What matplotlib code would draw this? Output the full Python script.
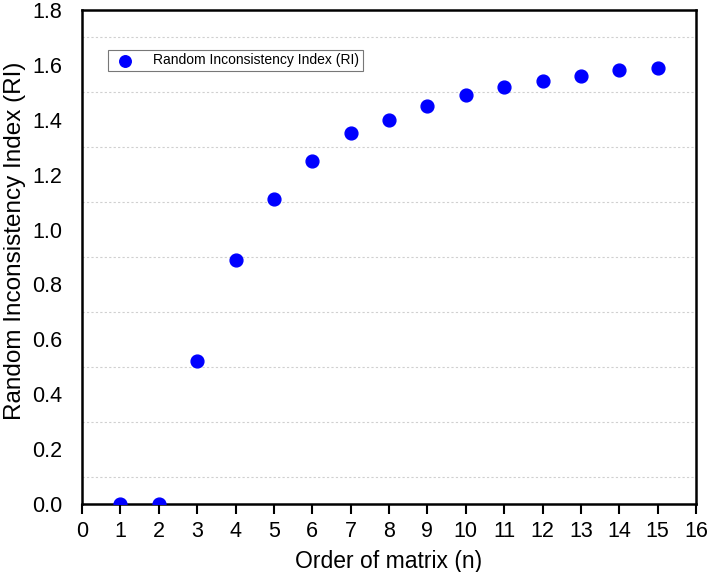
import matplotlib.pyplot as plt
from matplotlib.ticker import MultipleLocator

# ordine della matrice e indice di consistenza casuale
order_n = [1, 2, 3, 4, 5, 6, 7, 8, 9, 10, 11, 12, 13, 14, 15]
ri_values = [0.0, 0.0, 0.52, 0.89, 1.11, 1.25, 1.35, 1.40, 1.45, 1.49,
             1.52, 1.54, 1.56, 1.58, 1.59]

plt.rcParams['font.family'] = ['Liberation Sans', 'DejaVu Sans']

fig = plt.figure(figsize=(7.08, 5.72), dpi=100)
ax = fig.add_axes([82 / 708, 68 / 572, 614 / 708, 494 / 572])

ax.scatter(order_n, ri_values, s=85, color='blue', zorder=3,
           label='Random Inconsistency Index (RI)')

ax.set_xlim(0, 16)
ax.set_ylim(0, 1.8)
ax.xaxis.set_major_locator(MultipleLocator(1))
ax.yaxis.set_major_locator(MultipleLocator(0.2))
ax.yaxis.set_minor_locator(MultipleLocator(0.2, offset=0.1))
ax.yaxis.set_major_formatter(lambda v, p: f"{v:.1f}")

# griglia tratteggiata a metà tra i tick principali
ax.grid(True, which='minor', axis='y', linestyle=(0, (2, 2)), color='#d0d0d0', linewidth=0.8)
ax.tick_params(axis='y', which='both', length=0, labelsize=15.5, pad=14)
ax.tick_params(axis='x', which='major', direction='out', length=7, width=1.5, labelsize=15.5, pad=5)
for s in ax.spines.values():
    s.set_linewidth(1.8)

ax.set_xlabel("Order of matrix (n)", fontsize=16.5, labelpad=6)
ax.set_ylabel("Random Inconsistency Index (RI)", fontsize=17.5)
ax.yaxis.set_label_coords(-0.092, 0.532)

leg = ax.legend(loc='upper left', bbox_to_anchor=(26 / 614, 1 - 40 / 494), fontsize=10,
                frameon=True, fancybox=False, edgecolor='#555555', borderpad=0.25,
                handletextpad=1.0, borderaxespad=0, markerscale=0.9)
leg.get_frame().set_linewidth(0.8)

fig.savefig("out.png", dpi=100)
